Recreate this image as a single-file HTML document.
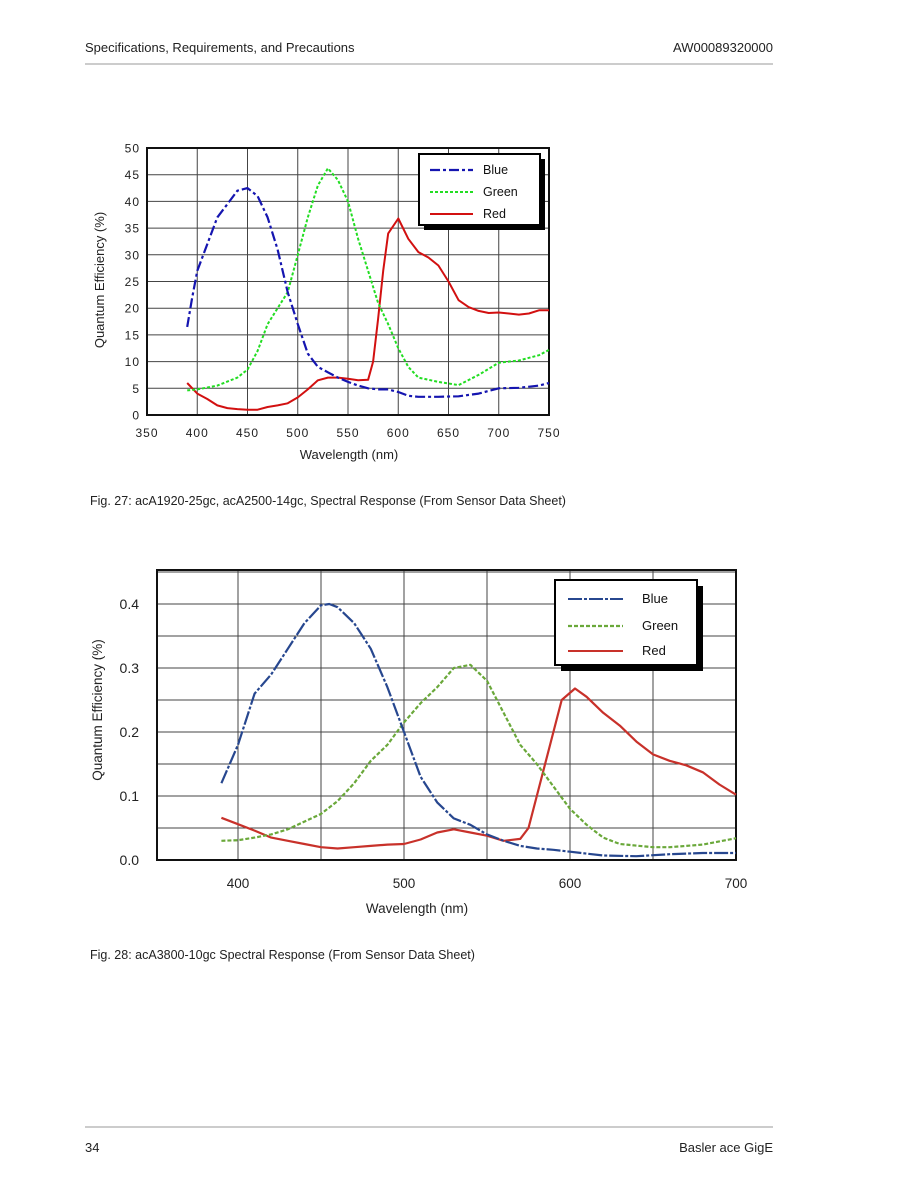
<!DOCTYPE html>
<html><head><meta charset="utf-8"><style>
body{margin:0;background:#fff;}
svg{display:block;font-family:"Liberation Sans",Arial,sans-serif;}
</style></head><body>
<svg id="s" width="902" height="1197" viewBox="0 0 902 1197">
<text x="85" y="52" font-size="13" fill="#222">Specifications, Requirements, and Precautions</text>
<text x="773" y="52" font-size="13" fill="#222" text-anchor="end">AW00089320000</text>
<line x1="85" y1="64" x2="773" y2="64" stroke="#bbb" stroke-width="1.5"/>
<line x1="85" y1="1127" x2="773" y2="1127" stroke="#bbb" stroke-width="1.5"/>
<text x="85" y="1152" font-size="13" fill="#222">34</text>
<text x="773" y="1152" font-size="13" fill="#222" text-anchor="end">Basler ace GigE</text>
<text x="90" y="505" font-size="12.5" fill="#222">Fig. 27: acA1920-25gc, acA2500-14gc, Spectral Response (From Sensor Data Sheet)</text>
<text x="90" y="959" font-size="12.5" fill="#222">Fig. 28: acA3800-10gc Spectral Response (From Sensor Data Sheet)</text>
<g id="c1"></g><g id="c2"></g>
</svg>
<script>
var NS="http://www.w3.org/2000/svg";
function el(p,t,a,txt){var e=document.createElementNS(NS,t);for(var k in a)e.setAttribute(k,a[k]);if(txt!=null)e.textContent=txt;p.appendChild(e);return e;}
function path(p,data,fx,fy,attrs){var d="";for(var i=0;i<data.length;i+=2){d+=(i?"L":"M")+fx(data[i]).toFixed(1)+","+fy(data[i+1]).toFixed(1);}attrs.d=d;attrs.fill="none";attrs["stroke-linejoin"]="round";el(p,"path",attrs);}
// Chart 1
var g=document.getElementById("c1");
var L=147,R=549,T=148,B=415;
var fx=function(v){return L+(v-350)/400*(R-L)},fy=function(v){return B-v/50*(B-T)};
for(var v=0;v<=50;v+=5){var y=fy(v);el(g,"line",{x1:L,x2:R,y1:y,y2:y,stroke:"#444","stroke-width":1});el(g,"text",{x:140,y:y+4.5,"font-size":12,"text-anchor":"end","letter-spacing":"1",fill:"#222"},String(v));}
for(var v=350;v<=750;v+=50){var x=fx(v);el(g,"line",{x1:x,x2:x,y1:T,y2:B,stroke:"#444","stroke-width":1});el(g,"text",{x:x,y:437,"font-size":12,"text-anchor":"middle","letter-spacing":"1",fill:"#222"},String(v));}
el(g,"rect",{x:L,y:T,width:R-L,height:B-T,fill:"none",stroke:"#111","stroke-width":2});
el(g,"text",{x:349,y:459,"font-size":13,"text-anchor":"middle",fill:"#222"},"Wavelength (nm)");
el(g,"text",{x:0,y:0,"font-size":13,"text-anchor":"middle",fill:"#222",transform:"translate(104,280) rotate(-90)"},"Quantum Efficiency (%)");
var b1=[390,16.5,395,22,400,27,410,32,420,37,430,39.5,440,42,450,42.5,460,41,470,37,480,31,490,23,500,17,510,11.5,520,9,530,8,540,7,550,6.2,560,5.5,570,5,580,4.8,590,4.8,600,4.3,610,3.6,620,3.4,640,3.4,660,3.5,680,4,700,5,720,5.1,740,5.5,750,6];
var g1=[390,4.6,400,4.8,420,5.5,440,7,450,8.5,460,12,470,17,480,20,490,23,500,30,510,37,520,43,530,46.2,540,44,550,40,560,33,570,27,580,21,590,17,600,12.5,610,9,620,7,640,6.2,660,5.6,680,7.5,700,9.8,720,10.2,740,11.2,750,12.2];
var r1=[390,6,400,4,410,3,420,1.8,430,1.3,440,1.1,450,1,460,1,470,1.5,480,1.8,490,2.2,500,3.3,510,4.8,520,6.5,530,7,540,7,550,6.8,560,6.5,570,6.6,575,10,580,18,585,27,590,34,600,36.8,610,33,620,30.5,630,29.5,640,28,650,25,660,21.5,670,20.2,680,19.5,690,19.1,700,19.2,710,19,720,18.8,730,19,740,19.6,750,19.6];
path(g,r1,fx,fy,{stroke:"#d21010","stroke-width":2});
path(g,g1,fx,fy,{stroke:"#22dd22","stroke-width":2,"stroke-dasharray":"3,2"});
path(g,b1,fx,fy,{stroke:"#1515b0","stroke-width":2.2,"stroke-dasharray":"10,3,3,3"});
el(g,"rect",{x:424,y:159,width:121,height:71,fill:"#000"});
el(g,"rect",{x:419,y:154,width:121,height:71,fill:"#fff",stroke:"#000","stroke-width":2});
el(g,"line",{x1:430,x2:473,y1:170,y2:170,stroke:"#1515b0","stroke-width":2.2,"stroke-dasharray":"10,3,3,3"});
el(g,"line",{x1:430,x2:473,y1:192,y2:192,stroke:"#22dd22","stroke-width":2,"stroke-dasharray":"3,2"});
el(g,"line",{x1:430,x2:473,y1:214,y2:214,stroke:"#d21010","stroke-width":2});
el(g,"text",{x:483,y:174,"font-size":12.5,fill:"#111"},"Blue");
el(g,"text",{x:483,y:196,"font-size":12.5,fill:"#111"},"Green");
el(g,"text",{x:483,y:218,"font-size":12.5,fill:"#111"},"Red");
// Chart 2
g=document.getElementById("c2");
L=157;R=736;T=570;B=860;
var fx2=function(v){return 238+(v-400)/300*(736-238)},fy2=function(v){return 860-v/0.1*64};
for(var k=1;k<=9;k++){var y=860-k*32;el(g,"line",{x1:L,x2:R,y1:y,y2:y,stroke:"#444","stroke-width":1});}
[0,0.1,0.2,0.3,0.4].forEach(function(v){el(g,"text",{x:139,y:fy2(v)+5,"font-size":14,"text-anchor":"end",fill:"#222"},v.toFixed(1));});
[400,500,600,700].forEach(function(v){var x=fx2(v);el(g,"line",{x1:x,x2:x,y1:T,y2:B,stroke:"#444","stroke-width":1});el(g,"text",{x:x,y:888,"font-size":13.5,"text-anchor":"middle",fill:"#222"},String(v));});
el(g,"line",{x1:fx2(650),x2:fx2(650),y1:T,y2:B,stroke:"#444","stroke-width":1});
el(g,"line",{x1:fx2(550),x2:fx2(550),y1:T,y2:B,stroke:"#444","stroke-width":1});
el(g,"line",{x1:fx2(450),x2:fx2(450),y1:T,y2:B,stroke:"#444","stroke-width":1});
el(g,"rect",{x:L,y:T,width:R-L,height:B-T,fill:"none",stroke:"#111","stroke-width":2});
el(g,"text",{x:417,y:913,"font-size":13.5,"text-anchor":"middle",fill:"#222"},"Wavelength (nm)");
el(g,"text",{x:0,y:0,"font-size":13.5,"text-anchor":"middle",fill:"#222",transform:"translate(102,710) rotate(-90)"},"Quantum Efficiency (%)");
var b2=[390,.12,400,.18,410,.26,420,.29,430,.33,440,.37,450,.398,455,.4,460,.395,470,.37,480,.33,490,.27,500,.2,510,.13,520,.09,530,.065,540,.055,550,.04,560,.03,570,.022,580,.018,590,.016,600,.013,610,.01,620,.007,640,.006,660,.009,680,.011,700,.011];
var g2=[390,.03,400,.031,410,.035,420,.04,430,.048,440,.06,450,.072,460,.092,470,.12,480,.155,490,.18,500,.215,510,.245,520,.27,530,.3,540,.305,550,.28,560,.23,570,.18,580,.15,590,.115,600,.08,610,.055,620,.035,630,.025,650,.02,660,.02,680,.024,700,.034];
var r2=[390,.066,400,.056,410,.046,420,.035,430,.03,440,.025,450,.02,460,.018,470,.02,480,.022,490,.024,500,.025,510,.032,520,.043,530,.048,540,.043,550,.038,560,.03,570,.033,575,.05,580,.1,590,.2,595,.25,603,.268,610,.255,620,.23,630,.21,640,.185,650,.165,660,.155,670,.148,680,.137,690,.118,700,.102];
path(g,r2,fx2,fy2,{stroke:"#c8312a","stroke-width":2.2});
path(g,g2,fx2,fy2,{stroke:"#6aa83a","stroke-width":2.2,"stroke-dasharray":"4,2"});
path(g,b2,fx2,fy2,{stroke:"#27478f","stroke-width":2.2,"stroke-dasharray":"14,2,3,2"});
el(g,"rect",{x:561,y:586,width:142,height:85,fill:"#000"});
el(g,"rect",{x:555,y:580,width:142,height:85,fill:"#fff",stroke:"#000","stroke-width":2});
el(g,"line",{x1:568,x2:623,y1:599,y2:599,stroke:"#27478f","stroke-width":2,"stroke-dasharray":"14,2,3,2"});
el(g,"line",{x1:568,x2:623,y1:626,y2:626,stroke:"#6aa83a","stroke-width":2.2,"stroke-dasharray":"4,2"});
el(g,"line",{x1:568,x2:623,y1:651,y2:651,stroke:"#c8312a","stroke-width":2});
el(g,"text",{x:642,y:603,"font-size":13,fill:"#111"},"Blue");
el(g,"text",{x:642,y:630,"font-size":13,fill:"#111"},"Green");
el(g,"text",{x:642,y:655,"font-size":13,fill:"#111"},"Red");
</script>
</body></html>
